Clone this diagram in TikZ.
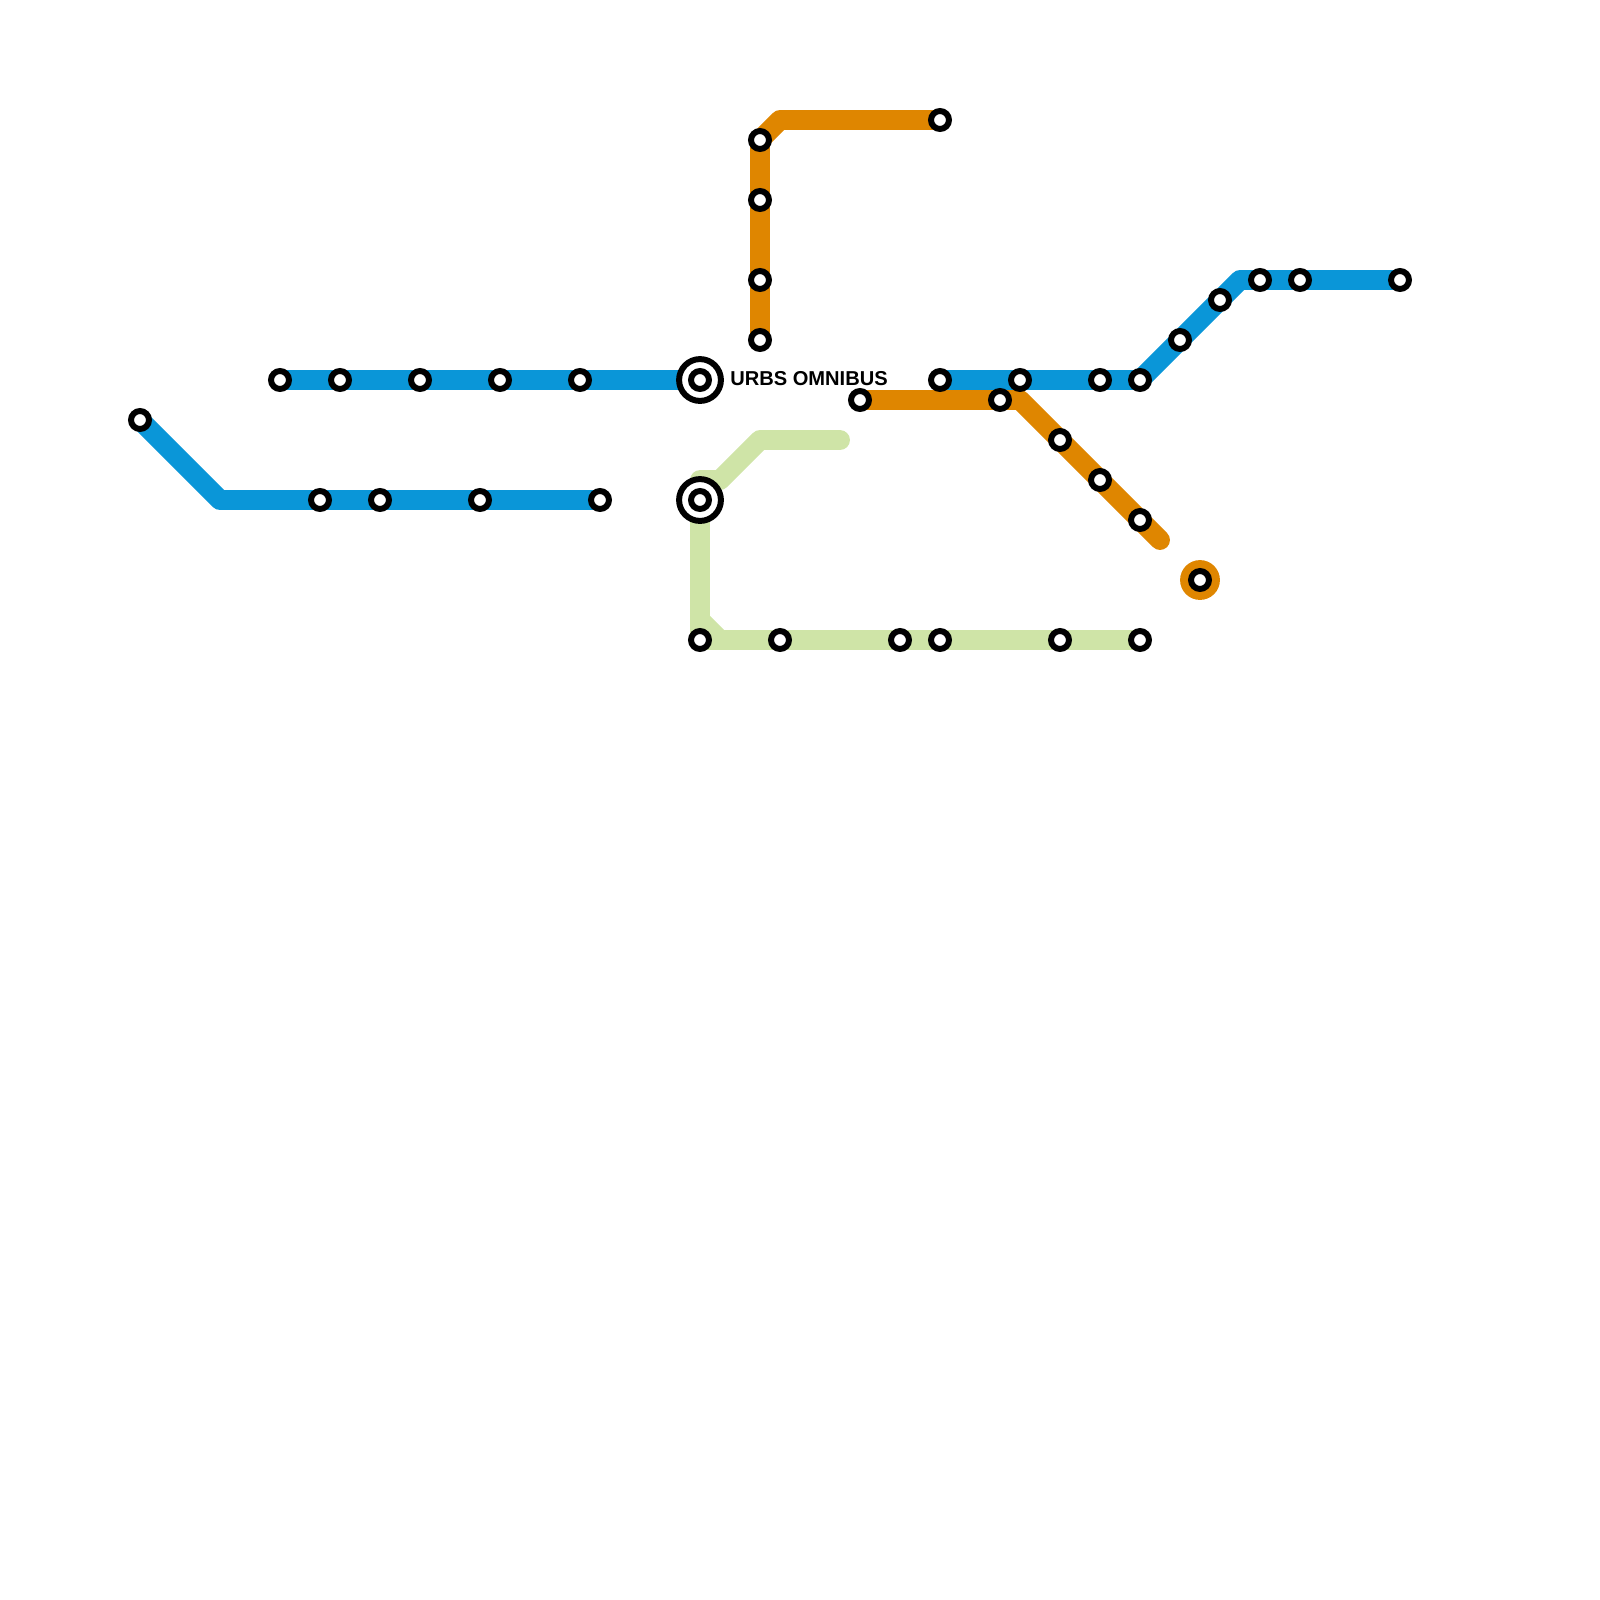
\documentclass[tikz,border=0pt]{standalone}
\usepackage{fontspec}
\setmainfont{Liberation Sans}
\usetikzlibrary{backgrounds}
\definecolor{lineblue}{HTML}{0A96D8}
\definecolor{lineorange}{HTML}{DF8600}
\definecolor{linegreen}{HTML}{CFE4A7}
\tikzset{
  stop/.style={circle,draw=black,fill=white,line width=4.25pt,minimum size=12.76pt,inner sep=0pt},
  hubring/.style={circle,draw=black,fill=white,line width=4.25pt,minimum size=29.76pt,inner sep=0pt},
  blob/.style={circle,fill=lineorange,minimum size=28.35pt,inner sep=0pt},
  route/.style={line width=14.17pt,line cap=round,line join=round}
}
\begin{document}
\begin{tikzpicture}[x=0.5cm,y=-0.5cm]
            \useasboundingbox (0,0) rectangle (80,80);
            % bends
            \coordinate (k1) at (11,25);
            \coordinate (k2) at (38,7);
            \coordinate (k3) at (39,6);
            \coordinate (k4) at (51,20);
            \coordinate (k5) at (58,27);
            \coordinate (k6) at (62,14);
            \coordinate (k7) at (42,22);
            \coordinate (k8) at (38,22);
            \coordinate (k9) at (36,24);
            \coordinate (k10) at (35,24);
            \coordinate (k11) at (35,31);
            \coordinate (k12) at (36,32);
            % hubs
            \node[hubring] (ra) at (35,19) {};
            \node[hubring] (rb) at (35,25) {};
            \node[stop] (ha) at (35,19) {};
            \node[stop] (hb) at (35,25) {};
            % blue, upper left
            \node[stop] (a1) at (14,19) {};
            \node[stop] (a2) at (17,19) {};
            \node[stop] (a3) at (21,19) {};
            \node[stop] (a4) at (25,19) {};
            \node[stop] (a5) at (29,19) {};
            % blue, lower left
            \node[stop] (b1) at (7,21) {};
            \node[stop] (b2) at (16,25) {};
            \node[stop] (b3) at (19,25) {};
            \node[stop] (b4) at (24,25) {};
            \node[stop] (b5) at (30,25) {};
            % orange, top
            \node[stop] (c1) at (47,6) {};
            \node[stop] (c2) at (38,7) {};
            \node[stop] (c3) at (38,10) {};
            \node[stop] (c4) at (38,14) {};
            \node[stop] (c5) at (38,17) {};
            % orange, right
            \node[stop] (d1) at (43,20) {};
            \node[stop] (d2) at (50,20) {};
            \node[stop] (d3) at (53,22) {};
            \node[stop] (d4) at (55,24) {};
            \node[stop] (d5) at (57,26) {};
            % blue, right
            \node[stop] (e1) at (47,19) {};
            \node[stop] (e2) at (51,19) {};
            \node[stop] (e3) at (55,19) {};
            \node[stop] (e4) at (57,19) {};
            \node[stop] (e5) at (59,17) {};
            \node[stop] (e6) at (61,15) {};
            \node[stop] (e7) at (63,14) {};
            \node[stop] (e8) at (65,14) {};
            \node[stop] (e9) at (70,14) {};
            % green
            \node[stop] (f1) at (35,32) {};
            \node[stop] (f2) at (39,32) {};
            \node[stop] (f3) at (45,32) {};
            \node[stop] (f4) at (47,32) {};
            \node[stop] (f5) at (53,32) {};
            \node[stop] (f6) at (57,32) {};
            % lone stop
            \begin{scope}[on background layer]
                \node[blob] (g0) at (60,29) {};
            \end{scope}
            \node[stop] (g1) at (60,29) {};
            \node[anchor=west,inner sep=0pt,font=\fontsize{14.3}{16}\selectfont\bfseries] (urbs) at (36.5,18.93) {URBS OMNIBUS};
            \begin{scope}[on background layer]
                \draw[route,linegreen] (k7)--(k8)--(k9)--(k10)--(f1.center)--(f6.center);
                \draw[route,linegreen] (k11)--(k12);
                \draw[route,lineorange] (c1.center)--(k3)--(c2.center)--(c5.center);
                \draw[route,lineorange] (d1.center)--(k4)--(k5);
                \draw[route,lineblue] (a1.center)--(ha.center);
                \draw[route,lineblue] (b1.center)--(k1)--(b5.center);
                \draw[route,lineblue] (e1.center)--(e4.center)--(k6)--(e9.center);
            \end{scope}
        \end{tikzpicture}
\end{document}
